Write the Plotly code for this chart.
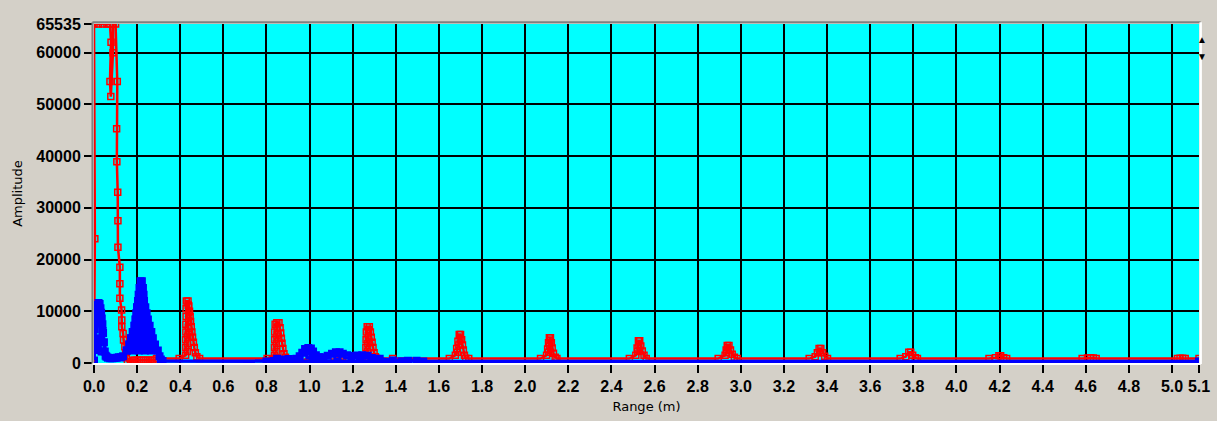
import plotly.graph_objects as go

# ---------------- data ----------------
# red trace: (range m, amplitude)
red_points = [
    (0.000, 0), (0.004, 24000), (0.000, 65535), (0.020, 65535), (0.040, 65535), (0.060, 65535),
    (0.074, 65535), (0.079, 62000), (0.074, 54400), (0.078, 51500), (0.088, 60000), (0.088, 65535),
    (0.100, 65535), (0.108, 54400), (0.105, 45300), (0.106, 38900), (0.110, 33000), (0.111, 27500),
    (0.111, 22400), (0.120, 18500), (0.120, 15300), (0.120, 12500), (0.128, 10250), (0.129, 8300),
    (0.129, 7000), (0.135, 5700), (0.137, 4450), (0.143, 3150), (0.147, 2000), (0.150, 1000),
    (0.155, 300), (0.170, 200),
    (0.180, 550), (0.190, 550), (0.200, 550), (0.210, 550), (0.220, 550), (0.230, 550),
    (0.240, 550), (0.250, 550), (0.260, 550), (0.270, 550), (0.280, 550), (0.290, 850),
    (0.395, 850), (0.425, 1500), (0.433, 2200), (0.425, 3000), (0.434, 3700), (0.425, 4500),
    (0.435, 5200), (0.426, 6000), (0.437, 6700), (0.426, 7500), (0.439, 8200), (0.427, 9000),
    (0.440, 9700), (0.427, 10500), (0.437, 11200), (0.428, 12000), (0.436, 12000),
    (0.440, 11000), (0.443, 10000), (0.446, 9000), (0.448, 8000), (0.451, 7000), (0.454, 6000),
    (0.457, 5000), (0.461, 4000), (0.465, 3000), (0.470, 2000), (0.477, 1200), (0.490, 850),
    (0.803, 850), (0.837, 1500), (0.845, 2200), (0.837, 3000), (0.846, 3700), (0.838, 4500),
    (0.848, 5200), (0.838, 6000), (0.849, 6700), (0.840, 7500), (0.848, 7800), (0.858, 7800),
    (0.863, 6800), (0.866, 5800), (0.869, 4800), (0.872, 3800), (0.876, 2800), (0.881, 1800),
    (0.888, 1100), (0.903, 200),
    (0.989, 200), (0.999, 700), (1.009, 200), (1.114, 200), (1.129, 600), (1.144, 600),
    (1.154, 200), (1.235, 200), (1.245, 700),
    (1.255, 800), (1.261, 1500), (1.269, 2200), (1.261, 3000), (1.270, 3700), (1.262, 4500),
    (1.272, 5200), (1.263, 6000), (1.273, 6500), (1.267, 7000), (1.277, 7000),
    (1.282, 6000), (1.286, 5000), (1.290, 4000), (1.294, 3000), (1.299, 2000), (1.305, 1200),
    (1.310, 900), (1.385, 850),
    (1.648, 850), (1.676, 1500), (1.685, 2100), (1.682, 2800), (1.692, 3500), (1.688, 4200),
    (1.698, 4800), (1.694, 5500), (1.700, 5500), (1.705, 4500), (1.709, 3500), (1.713, 2500),
    (1.718, 1500), (1.724, 900), (1.738, 850),
    (2.071, 850), (2.099, 1500), (2.108, 2100), (2.104, 2700), (2.113, 3300), (2.108, 3900),
    (2.115, 4400), (2.112, 4900), (2.117, 4900), (2.121, 3900), (2.125, 2900), (2.131, 1900),
    (2.139, 1100), (2.147, 850),
    (2.483, 850), (2.513, 1500), (2.522, 2200), (2.519, 2900), (2.527, 3600), (2.525, 4300),
    (2.531, 4300), (2.536, 3300), (2.543, 2300), (2.551, 1500), (2.561, 850),
    (2.895, 850), (2.927, 1500), (2.935, 2000), (2.932, 2500), (2.939, 3000), (2.937, 3400),
    (2.945, 3400), (2.952, 2500), (2.960, 1700), (2.970, 1100), (2.983, 850),
    (3.317, 850), (3.345, 1200), (3.355, 2000), (3.363, 2800), (3.371, 2800), (3.379, 2000),
    (3.389, 1300), (3.402, 850),
    (3.739, 850), (3.765, 1200), (3.779, 2100), (3.788, 2100), (3.797, 1500), (3.809, 1000),
    (3.819, 850),
    (4.151, 850), (4.181, 1000), (4.197, 1400), (4.205, 1400), (4.219, 1000), (4.233, 850),
    (4.583, 850), (4.608, 950), (4.623, 1000), (4.635, 950), (4.648, 850),
    (5.025, 850), (5.037, 900), (5.049, 900), (5.061, 850), (5.125, 850),
]

# blue trace: (range m, amplitude)
blue_points = [
    (0.000, 500), (0.002, 2500), (0.003, 4500), (0.004, 6500), (0.006, 8500), (0.010, 10000),
    (0.016, 11200), (0.021, 11600), (0.026, 11400), (0.030, 10600), (0.033, 9700), (0.036, 8600),
    (0.039, 7500), (0.042, 5800), (0.046, 4000), (0.050, 2200), (0.054, 1400),
    (0.035, 2200), (0.018, 3000), (0.010, 4200), (0.025, 4800), (0.040, 6200), (0.030, 7800),
    (0.015, 8800), (0.022, 10200),
    (0.058, 1200), (0.065, 1000), (0.075, 900), (0.085, 900), (0.095, 950), (0.105, 1000),
    (0.115, 1100),
    (0.125, 1100), (0.135, 1300), (0.152, 2400), (0.164, 3600), (0.172, 4800), (0.180, 6000),
    (0.188, 7200), (0.193, 8400), (0.197, 9600), (0.200, 10800), (0.204, 12000), (0.207, 13200),
    (0.211, 14500), (0.216, 15800), (0.222, 15800), (0.227, 14500), (0.230, 13200), (0.232, 12000),
    (0.238, 10800), (0.219, 10800), (0.200, 10800),
    (0.197, 9600), (0.220, 9600), (0.244, 9600),
    (0.250, 8400), (0.222, 8400), (0.193, 8400),
    (0.188, 7200), (0.210, 7200), (0.235, 7200), (0.258, 7200),
    (0.266, 6000), (0.240, 6000), (0.210, 6000), (0.180, 6000),
    (0.172, 4800), (0.197, 4800), (0.222, 4800), (0.248, 4800), (0.273, 4800),
    (0.283, 3600), (0.259, 3600), (0.235, 3600), (0.211, 3600), (0.188, 3600), (0.164, 3600),
    (0.152, 2400), (0.180, 2400), (0.208, 2400), (0.236, 2400), (0.264, 2400), (0.296, 2400),
    (0.304, 1300), (0.310, 700), (0.318, 400),
    (0.800, 300), (1.456, 300), (0.834, 400), (0.849, 800), (0.874, 700), (0.904, 750),
    (0.939, 800), (0.954, 1300), (0.966, 2000), (0.979, 2700), (0.994, 2900), (0.999, 1500),
    (1.006, 2800), (1.016, 2200), (1.014, 1000), (1.029, 1500), (1.044, 1100), (1.064, 1100),
    (1.084, 1400), (1.104, 1800), (1.122, 2100), (1.129, 1200), (1.139, 2100), (1.154, 1800),
    (1.174, 1500), (1.194, 1350), (1.219, 1450), (1.234, 1000), (1.244, 1500), (1.269, 1400),
    (1.289, 950), (1.325, 800), (1.386, 500), (1.426, 350), (1.456, 450), (1.496, 450),
    (1.527, 280), (5.125, 280),
]

red_x = [p[0] for p in red_points]
red_y = [p[1] for p in red_points]
blue_x = [p[0] for p in blue_points]
blue_y = [p[1] for p in blue_points]

x_max = 5.125
x_ticks = [0.0, 0.2, 0.4, 0.6, 0.8, 1.0, 1.2, 1.4, 1.6, 1.8, 2.0, 2.2, 2.4, 2.6, 2.8,
           3.0, 3.2, 3.4, 3.6, 3.8, 4.0, 4.2, 4.4, 4.6, 4.8, 5.0, x_max]
x_labels = ["0.0", "0.2", "0.4", "0.6", "0.8", "1.0", "1.2", "1.4", "1.6", "1.8", "2.0",
            "2.2", "2.4", "2.6", "2.8", "3.0", "3.2", "3.4", "3.6", "3.8", "4.0", "4.2",
            "4.4", "4.6", "4.8", "5.0", "5.1"]
y_ticks = [0, 10000, 20000, 30000, 40000, 50000, 60000, 65535]
y_labels = ["0", "10000", "20000", "30000", "40000", "50000", "60000", "65535"]

# ---------------- figure ----------------
fig = go.Figure()
fig.add_trace(go.Scatter(
    x=red_x, y=red_y, mode="lines+markers",
    line=dict(color="#FF0000", width=2.5),
    marker=dict(symbol="square-open", size=6, color="#FF0000", line=dict(width=1.5)),
    hoverinfo="skip"))
fig.add_trace(go.Scatter(
    x=blue_x, y=blue_y, mode="lines+markers",
    line=dict(color="#0000FF", width=3.5),
    marker=dict(symbol="square-open", size=5, color="#0000FF", line=dict(width=3)),
    hoverinfo="skip"))

tick_font = dict(family="Liberation Sans, Arial, sans-serif", size=16, color="black", weight="bold")
title_font = dict(family="DejaVu Sans, sans-serif", size=13, color="black")

fig.update_layout(
    width=1217, height=421,
    margin=dict(l=94, r=18, t=24, b=58, autoexpand=False),
    paper_bgcolor="#D4D0C8", plot_bgcolor="#00FFFF",
    showlegend=False,
    xaxis=dict(range=[0, x_max], tickmode="array", tickvals=x_ticks, ticktext=x_labels,
               tickangle=0,
               ticks="outside", ticklen=9, tickwidth=2, tickcolor="black",
               showgrid=True, gridcolor="black", gridwidth=2, zeroline=False,
               showline=False, tickfont=tick_font, automargin=False,
               title=dict(text="Range (m)", font=title_font, standoff=7)),
    yaxis=dict(range=[0, 65535], tickmode="array", tickvals=y_ticks, ticktext=y_labels,
               ticks="outside", ticklen=9, tickwidth=2, tickcolor="black",
               showgrid=True, gridcolor="black", gridwidth=2, zeroline=False,
               showline=False, tickfont=tick_font, automargin=False,
               title=dict(text="Amplitude", font=title_font, standoff=10)),
    shapes=[
        dict(type="line", xref="paper", yref="paper", x0=-0.0014, x1=-0.0014, y0=-0.003, y1=1.005,
             line=dict(color="#808080", width=2)),
        dict(type="line", xref="paper", yref="paper", x0=-0.0014, x1=1.0015, y0=1.005, y1=1.005,
             line=dict(color="#808080", width=2)),
        dict(type="line", xref="paper", yref="paper", x0=1.0015, x1=1.0015, y0=-0.003, y1=1.005,
             line=dict(color="#FFFFFF", width=2.5)),
        dict(type="line", xref="paper", yref="paper", x0=-0.0014, x1=1.0015, y0=-0.003, y1=-0.003,
             line=dict(color="#FFFFFF", width=2)),
    ],
    annotations=[
        dict(text="▲", xref="paper", yref="paper", x=1.0095, y=0.982, showarrow=False,
             font=dict(size=10, color="black")),
        dict(text="▼", xref="paper", yref="paper", x=1.0095, y=0.931, showarrow=False,
             font=dict(size=10, color="black")),
    ],
)

fig.write_html("out.html", config={"displayModeBar": False},
               post_script="document.body.style.margin='0';")
